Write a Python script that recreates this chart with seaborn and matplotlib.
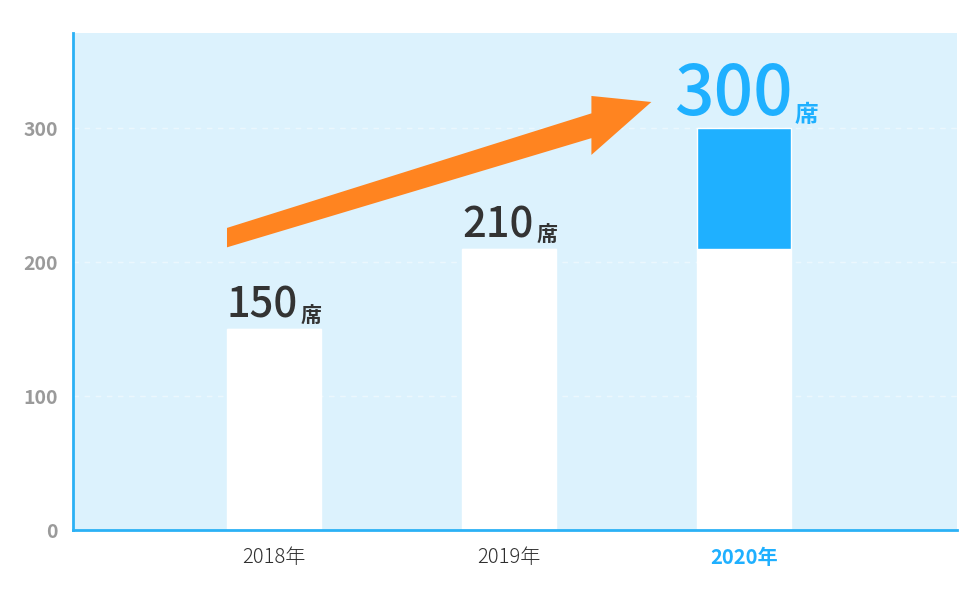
import matplotlib
matplotlib.use("Agg")
import matplotlib.pyplot as plt
from matplotlib.patches import Polygon
import seaborn as sns
import pandas as pd

# chart values
years = ["2018年", "2019年", "2020年"]
base_seats = [150, 210, 210]
added_seats = [0, 0, 90]
total_seats = [150, 210, 300]
y_ticks = [0, 100, 200, 300]

BG = "#dcf2fd"
BLUE = "#1fb0ff"
DARK = "#333333"
ORANGE = "#ff8420"

sns.set_theme(style="white")
plt.rcParams["font.family"] = ["Noto Sans CJK JP", "DejaVu Sans"]

df = pd.DataFrame({"year": years, "base": base_seats, "added": added_seats,
                   "total": total_seats})

fig = plt.figure(figsize=(9.8, 6), dpi=100)
ax = fig.add_axes([73 / 980, 70 / 600, 884 / 980, 497 / 600])
ax.set_facecolor(BG)

# white base bars, blue increase stacked on top
sns.barplot(data=df, x="year", y="base", color="white", width=0.4,
            saturation=1, ax=ax, zorder=2)
ax.bar(range(len(years)), df["added"], bottom=df["base"], width=0.4,
       color=BLUE, zorder=2)

ax.set_xlim(-0.855, 2.905)
ax.set_ylim(0, 371)
ax.set_yticks(y_ticks)
ax.set_xlabel("")
ax.set_ylabel("")
for y in y_ticks[1:]:
    ax.axhline(y, color="white", lw=1, ls=(0, (4, 4)), alpha=0.45, zorder=1)

for side in ["top", "right"]:
    ax.spines[side].set_visible(False)
for side in ["left", "bottom"]:
    ax.spines[side].set_color("#2bb1f5")
    ax.spines[side].set_linewidth(2)

ax.tick_params(axis="y", length=0, pad=11, labelsize=14, labelcolor="#9a9a9a")
for lab in ax.get_yticklabels():
    lab.set_fontweight("bold")
ax.tick_params(axis="x", length=0, pad=12, labelsize=14.5, labelcolor="#2e2e2e")
xlabels = ax.get_xticklabels()
for lab in xlabels:
    lab.set_fontweight("light")
xlabels[-1].set_color(BLUE)
xlabels[-1].set_fontweight("bold")

# value labels: number + small 席
for i, v in enumerate(total_seats):
    last = i == len(total_seats) - 1
    col = BLUE if last else DARK
    size = 50 if last else 30
    offset = 9.5 if last else 8
    num = ax.annotate(str(v), xy=(i - 0.2, v), xytext=(-17 if last else 0, offset),
                      textcoords="offset points", ha="left", va="baseline",
                      fontsize=size, color=col, fontweight="medium", zorder=4)
    ax.annotate("席", xy=(1, 0), xycoords=num, xytext=(2, 2 if last else 1),
                textcoords="offset points", ha="left", va="bottom",
                fontsize=17 if last else 15, color=col, fontweight="bold", zorder=4)

# growth arrow (decoration)
arrow = [(-0.2, 211), (-0.2, 225.5), (1.35, 311), (1.35, 324),
         (1.605, 319.5), (1.35, 280), (1.35, 292.5)]
ax.add_patch(Polygon(arrow, closed=True, color=ORANGE, lw=0, zorder=3))

fig.savefig("out.png", dpi=100)
